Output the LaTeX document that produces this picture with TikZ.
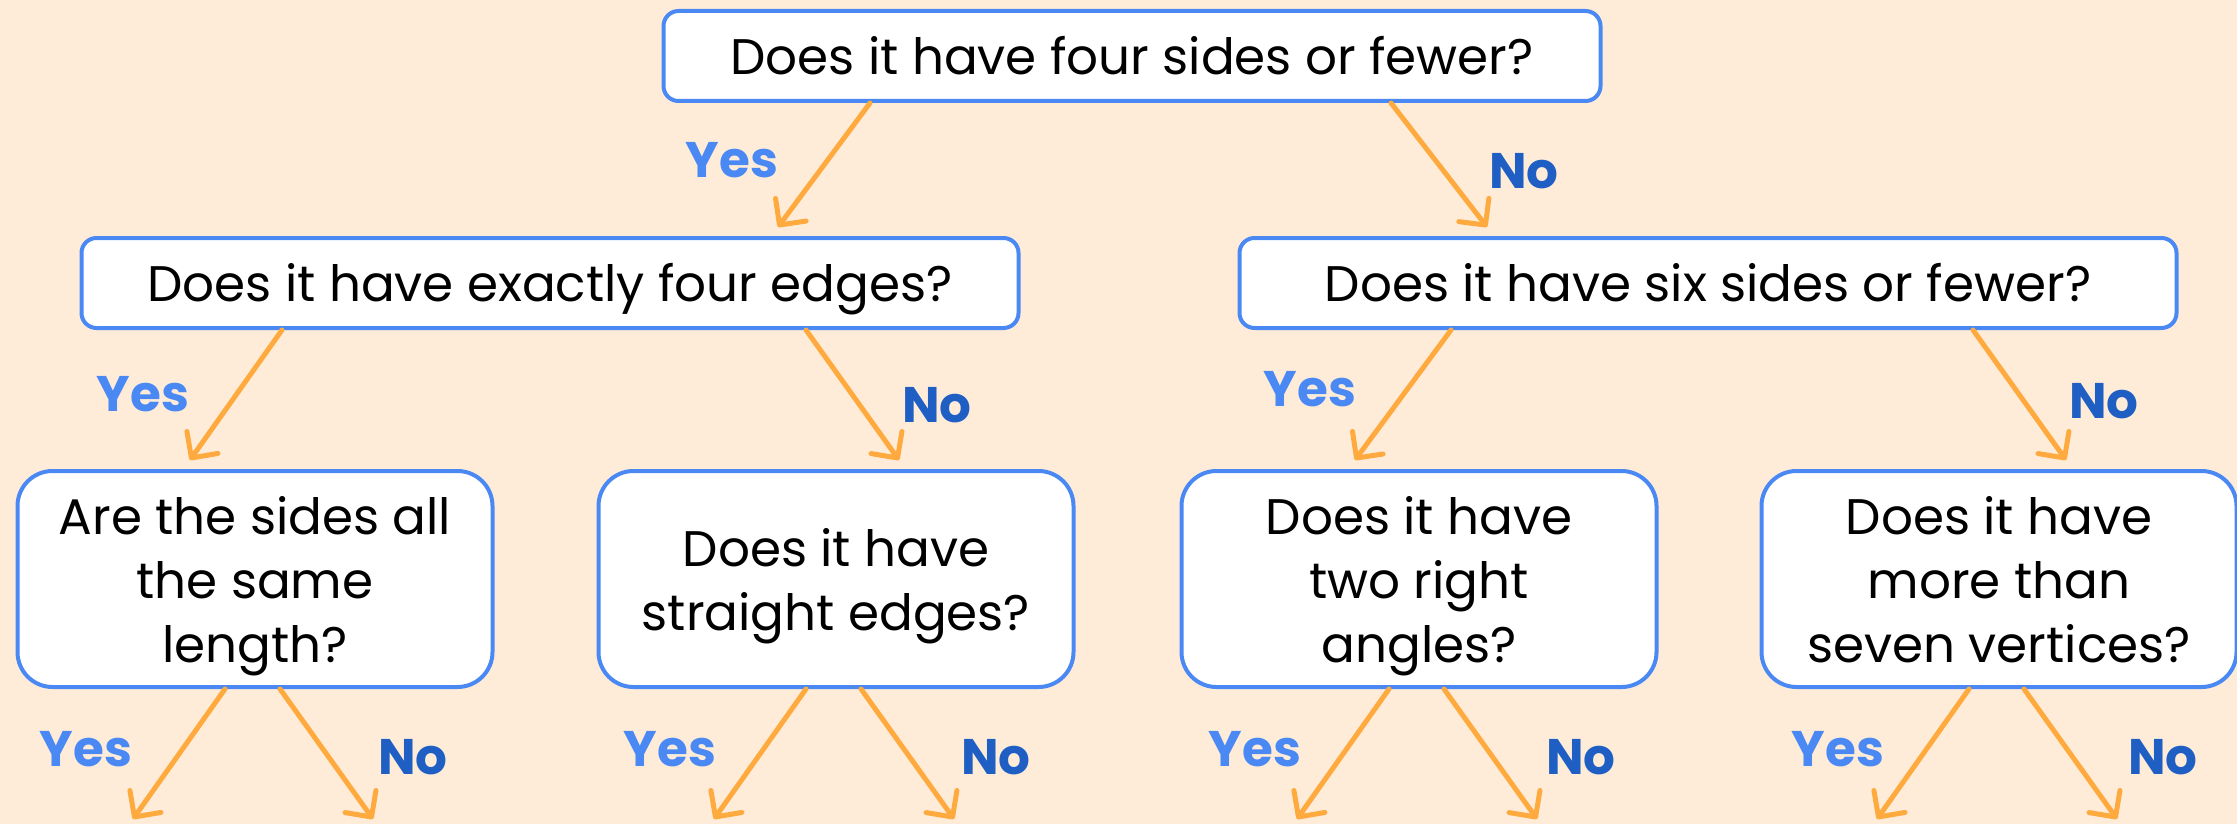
\documentclass[tikz,border=0pt]{standalone}
\usepackage{fontspec}
\setmainfont{Poppins}
\usepackage{xcolor}
\usetikzlibrary{arrows.meta,positioning}

\definecolor{bgpeach}{HTML}{FEECD9}
\definecolor{boxblue}{HTML}{4A89F3}
\definecolor{yesblue}{HTML}{4A89F3}
\definecolor{noblue}{HTML}{1F5FC4}
\definecolor{arrorange}{HTML}{FFAA3F}

\begin{document}
\begin{tikzpicture}[x=1pt,y=-1pt,
  qbox/.style={draw=boxblue,line width=4pt,fill=white,rounded corners=15pt,inner sep=0pt,
    minimum width=937pt,minimum height=90pt,text height=37pt,text depth=-3pt,
    font=\fontsize{50}{64}\selectfont},
  qcard/.style={qbox,rounded corners=35pt,minimum width=475pt,minimum height=216pt,
    align=center,text height=,text depth=-5pt},
  yes/.style={text=yesblue,font=\bfseries\fontsize{50}{60}\selectfont},
  no/.style={text=noblue,font=\bfseries\fontsize{50}{60}\selectfont},
  branch/.style={draw=arrorange,line width=5pt,line cap=round,
    -{Straight Barb[length=19pt,width=38pt,round]}}]
\fill[bgpeach](0,0)rectangle(2237,824);
\useasboundingbox(0,0)rectangle(2237,824);

% questions
\node[qbox](q1)at(1132,56){Does it have four sides or fewer?};
\node[qbox](q2a)at(550,283){Does it have exactly four edges?};
\node[qbox](q2b)at(1708,283){Does it have six sides or fewer?};
\node[qcard](q3a)at(255,579){Are the sides all\\the same\\length?};
\node[qcard](q3b)at(836,579){Does it have\\straight edges?};
\node[qcard](q3c)at(1419,579){Does it have\\two right\\angles?};
\node[qcard](q3d)at(1999,579){Does it have\\more than\\seven vertices?};

% branches
\draw[branch]([xshift=-262pt]q1.south)--([xshift=228pt,yshift=9pt]q2a.north);
\draw[branch]([xshift=259pt]q1.south)--([xshift=-221pt,yshift=9pt]q2b.north);
\draw[branch]([xshift=-268pt]q2a.south)--([xshift=-65pt,yshift=9pt]q3a.north);
\draw[branch]([xshift=256pt]q2a.south)--([xshift=63pt,yshift=9pt]q3b.north);
\draw[branch]([xshift=-257pt]q2b.south)--([xshift=-64pt,yshift=9pt]q3c.north);
\draw[branch]([xshift=265pt]q2b.south)--([xshift=67pt,yshift=9pt]q3d.north);
\foreach \q in {q3a,q3b,q3c,q3d}{
  \coordinate(\q-y)at([shift={(-122,130)}]\q.south);
  \coordinate(\q-n)at([shift={(118,130)}]\q.south);
  \draw[branch]([xshift=-30pt]\q.south)--(\q-y);
  \draw[branch]([xshift=25pt]\q.south)--(\q-n);
}

% answers
\node[yes](y1)at(732,160){Yes};
\node[no](n1)at(1524,171){No};
\node[yes](y2a)at(143,394){Yes};
\node[no](n2a)at(937,405){No};
\node[yes](y2b)at(1310,389){Yes};
\node[no](n2b)at(2104,401){No};
\node[yes](y3a)at(86,749){Yes};
\node[no](n3a)at(413,757){No};
\node[yes](y3b)at(670,749){Yes};
\node[no](n3b)at(996,757){No};
\node[yes](y3c)at(1255,749){Yes};
\node[no](n3c)at(1581,757){No};
\node[yes](y3d)at(1838,749){Yes};
\node[no](n3d)at(2163,757){No};
\end{tikzpicture}
\end{document}
